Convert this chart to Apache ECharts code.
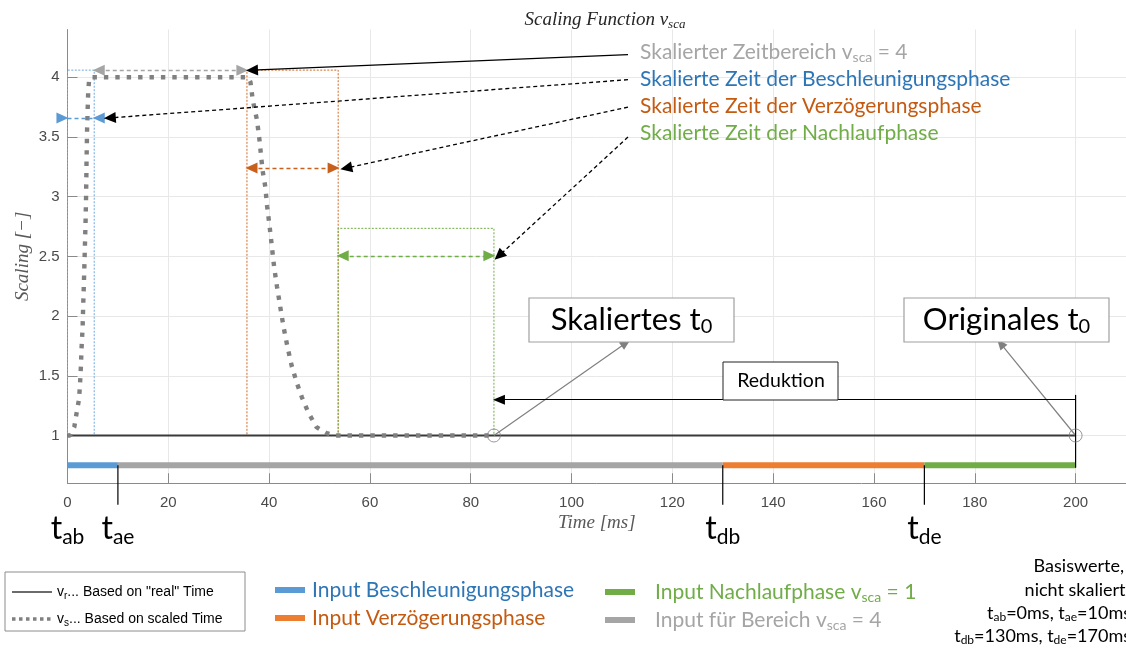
<!DOCTYPE html>
<html><head><meta charset="utf-8">
<script src="https://cdn.jsdelivr.net/npm/echarts@6/dist/echarts.min.js"></script>
<style>html,body{margin:0;padding:0;background:#fff}#c{width:1126px;height:650px}</style>
</head><body><div id="c"></div>
<script>
// ---------------- DATA ----------------
const timeTicks = [0, 20, 40, 60, 80, 100, 120, 140, 160, 180, 200];
const scalingTicks = [1, 1.5, 2, 2.5, 3, 3.5, 4];

// v_r : based on "real" time
const realTime = [0, 200];
const realValue = [1, 1];

// v_s : based on scaled time
const scaledTime = [0, 0.5, 1.34, 1.81, 2.27, 2.46, 2.66, 2.8, 3.0, 3.11, 3.31, 3.45, 3.59, 3.7, 3.78, 3.9, 4.1, 4.3, 4.7,
  35.8, 36.3, 36.75, 37.6, 38.1, 38.7, 39.25, 39.6, 40.1, 40.55, 41.0, 41.55, 42.2, 42.86, 43.65, 44.5, 45.5, 46.5, 47.8, 49.4, 51.4, 53.0, 84.6];
const scaledValue = [1, 1.0, 1.07, 1.19, 1.3, 1.41, 1.58, 1.74, 1.91, 2.08, 2.36, 2.58, 2.8, 3.03, 3.31, 3.59, 3.87, 3.99, 4.0,
  4.0, 3.96, 3.81, 3.64, 3.47, 3.22, 3.08, 2.92, 2.75, 2.58, 2.41, 2.25, 2.08, 1.91, 1.74, 1.58, 1.44, 1.32, 1.19, 1.07, 1.02, 1.0, 1.0];

// input phases (unscaled)
const phaseNames = ['Input Beschleunigungsphase', 'Input für Bereich vsca = 4', 'Input Verzögerungsphase', 'Input Nachlaufphase vsca = 1'];
const phaseStart = [0, 10, 130, 170];
const phaseEnd = [10, 130, 170, 200];
const phaseLevel = [0.75, 0.75, 0.75, 0.75];

// base time markers
const markerNames = ['ab', 'ae', 'db', 'de'];
const markerTime = [0, 10, 130, 170];
const markerTop = [0.75, 0.75, 0.75, 0.75];
const markerBottom = [0.42, 0.42, 0.42, 0.42];

// scaled phase windows: Beschleunigung, Verzögerung, Nachlauf
const windowStart = [0, 35.6, 53.7];
const windowEnd = [5.3, 53.7, 84.6];
const windowTop = [4.06, 4.06, 2.735];
const windowArrowLevel = [3.66, 3.24, 2.505];
const blueStubStart = -2.6;
const blueStubHead = -1.0;

// scaled range v_sca = 4
const rangeStart = 5.3;
const rangeEnd = 35.6;
const rangeLevel = 4.06;

// pointer lines from the texts (start -> target)
const pointerStartT = [111.2, 111.2, 111.2, 111.2];
const pointerStartV = [4.19, 3.98, 3.75, 3.5];
const pointerEndT = [35.6, 7.4, 54.3, 84.6];
const pointerEndV = [4.06, 3.66, 3.24, 2.505];

// t0 markers
const t0Time = [84.6, 200];
const t0Value = [1, 1];
const t0LabelT = [110.8, 185.1];
const t0LabelV = [1.775, 1.772];
const reductionLevel = 1.3;
const reductionTop = 1.34;
const reductionBottom = 0.73;

// ---------------- STYLE ----------------
const phaseColors = ['#5B9BD5', '#A5A5A5', '#ED7D31', '#70AD47'];
const windowColors = ['#6FA8DC', '#D06A25', '#70AD47'];
const arrowColors = ['#5B9BD5', '#C8601C', '#70AD47'];
const labelFont = 'Lato';
const headSize = [11, 12];

const chart = echarts.init(document.getElementById('c'), null, {renderer: 'canvas'});

const pair = (ts, vs) => ts.map((t, i) => [t, vs[i]]);
const seg = (x1, y1, x2, y2, style, s1, s2, size) => [
  {coord: [x1, y1], symbol: s1 || 'none', symbolSize: size || headSize},
  {coord: [x2, y2], symbol: s2 || 'none', symbolSize: size || headSize, lineStyle: style}
];
const dash = [4, 3];

const markLines = [];
// blue window: middle dashed + inward head at window end
markLines.push(seg(windowStart[0], windowArrowLevel[0], windowEnd[0], windowArrowLevel[0], {color: arrowColors[0], type: dash, width: 1.3}));
markLines.push(seg(windowEnd[0] + 2.2, windowArrowLevel[0], windowEnd[0] + 0.9, windowArrowLevel[0], {color: arrowColors[0], type: dash, width: 1.3}, 'none', 'triangle'));
// orange + green window double arrows
for (let i = 1; i < 3; i++) {
  markLines.push(seg(windowStart[i] + 0.9, windowArrowLevel[i], windowEnd[i] - 0.9, windowArrowLevel[i], {color: arrowColors[i], type: dash, width: 1.3}, 'triangle', 'triangle'));
}
// gray range double arrow
markLines.push(seg(rangeStart + 0.9, rangeLevel, rangeEnd - 0.9, rangeLevel, {color: '#A5A5A5', type: dash, width: 1.3}, 'triangle', 'triangle'));
// pointers from texts
for (let i = 0; i < 4; i++) {
  markLines.push(seg(pointerStartT[i], pointerStartV[i], pointerEndT[i] + 1.0, pointerEndV[i],
    {color: '#000', type: i === 0 ? 'solid' : dash, width: 1.3}, 'none', 'triangle'));
}
// t0 pointers
for (let i = 0; i < 2; i++) {
  markLines.push(seg(t0Time[i], t0Value[i], t0LabelT[i], t0LabelV[i], {color: '#808080', type: 'solid', width: 1.2}, 'none', 'triangle', [9, 11]));
}
// reduction
markLines.push(seg(t0Time[1], reductionLevel, t0Time[0] + 1.0, reductionLevel, {color: '#000', type: 'solid', width: 1}, 'none', 'triangle', [10, 12]));

const markAreas = windowStart.map((s, i) => [
  {coord: [s, 1], itemStyle: {color: 'rgba(0,0,0,0)', borderColor: windowColors[i], borderWidth: 1, borderType: [2, 1.5]}},
  {coord: [windowEnd[i], windowTop[i]]}
]);

const series = [
  {
    name: 'annotations', type: 'line', data: [], clip: false, silent: true,
    markLine: {silent: true, animation: false, label: {show: false}, symbol: ['none', 'none'], data: markLines},
    markArea: {silent: true, animation: false, label: {show: false}, data: markAreas}
  },
  {
    name: 'vr', type: 'line', data: pair(realTime, realValue), showSymbol: false, silent: true,
    lineStyle: {color: '#3a3a3a', width: 2}, z: 3
  },
  {
    name: 'vs', type: 'line', data: pair(scaledTime, scaledValue), showSymbol: false, silent: true,
    lineStyle: {color: '#808080', width: 4.4, type: [4.4, 7], cap: 'butt'}, z: 4
  },
  // blue stub left of the y axis with inward head
  {
    name: 'blueStub', type: 'line', clip: false, silent: true, symbol: 'none',
    data: [[blueStubStart, windowArrowLevel[0]], {value: [blueStubHead, windowArrowLevel[0]], symbol: 'triangle', symbolRotate: -90, symbolSize: headSize}, [windowStart[0], windowArrowLevel[0]]],
    lineStyle: {color: arrowColors[0], type: dash, width: 1.3}, itemStyle: {color: arrowColors[0]}, z: 4
  }
];
// marker verticals (extend below the axis)
for (let i = 1; i < 4; i++) {
  series.push({name: 'm' + i, type: 'line', clip: false, silent: true, showSymbol: false,
    data: [[markerTime[i], markerTop[i]], [markerTime[i], markerBottom[i]]], lineStyle: {color: '#000', width: 1.2}, z: 6});
}
series.push({name: 'redVert', type: 'line', clip: false, silent: true, showSymbol: false,
  data: [[t0Time[1], reductionTop], [t0Time[1], reductionBottom]], lineStyle: {color: '#000', width: 1.2}, z: 6});

phaseNames.forEach((n, i) => {
  series.push({
    name: n, type: 'line', data: [[phaseStart[i], phaseLevel[i]], [phaseEnd[i], phaseLevel[i]]],
    showSymbol: false, silent: true, clip: false, lineStyle: {color: phaseColors[i], width: 6, cap: 'butt'}, z: 5
  });
});
series.push({
  name: 't0', type: 'scatter', data: pair(t0Time, t0Value), symbol: 'circle', symbolSize: 13, silent: true,
  itemStyle: {color: 'rgba(0,0,0,0)', borderColor: '#808080', borderWidth: 1}, z: 6
});

const serifIt = {fontFamily: 'Liberation Serif', fontStyle: 'italic', fontWeight: 'normal'};

chart.setOption({
  animation: false,
  title: {
    text: '{a|Scaling Function v}{s|sca}', left: 600, textAlign: 'center', top: 4,
    textStyle: {fontWeight: 'normal', rich: {a: {...serifIt, fontSize: 19, color: '#262626'}, s: {...serifIt, fontSize: 13, color: '#262626', padding: [9, 0, 0, 0]}}}
  },
  grid: {left: 67.5, right: -7.25, top: 29.54, bottom: 166.74, containLabel: false},
  xAxis: {
    type: 'value', min: 0, max: 210,
    name: 'Time [ms]', nameLocation: 'middle', nameGap: 30, nameMoveOverlap: false,
    nameTextStyle: {...serifIt, fontSize: 19, color: '#595959'},
    axisLine: {onZero: false, lineStyle: {color: '#8a8a8a', width: 1}},
    axisTick: {inside: true, length: 10, lineStyle: {color: '#8a8a8a'}, customValues: timeTicks},
    axisLabel: {customValues: timeTicks, color: '#4a4a4a', fontSize: 15, fontFamily: 'Liberation Sans', margin: 12},
    splitLine: {show: true, lineStyle: {color: '#e8e8e8', width: 1}}
  },
  yAxis: {
    type: 'value', min: 0.6, max: 4.4,
    name: 'Scaling [−]', nameLocation: 'middle', nameGap: 35, nameRotate: 90, nameMoveOverlap: false,
    nameTextStyle: {...serifIt, fontSize: 19, color: '#595959'},
    axisLine: {show: true, onZero: false, lineStyle: {color: '#8a8a8a', width: 1}},
    axisTick: {show: true, inside: true, length: 10, lineStyle: {color: '#8a8a8a'}, customValues: scalingTicks},
    axisLabel: {customValues: scalingTicks, color: '#4a4a4a', fontSize: 15, fontFamily: 'Liberation Sans', margin: 8},
    splitLine: {show: true, lineStyle: {color: '#e8e8e8', width: 1}}
  },
  series: series
});

// ---------------- TEXT / LEGEND GRAPHICS ----------------
const tok = (size, color, pad, fam) => ({fontFamily: fam || labelFont, fontSize: size, fill: color, padding: [pad || 0, 0, 0, 0]});
const txt = (x, y, text, rich, extra) => ({type: 'text', x: x, y: y, silent: true, style: Object.assign({text: text, rich: rich}, extra || {})});

const graphics = [];
// pointer texts
const ptexts = [
  ['{a|Skalierter Zeitbereich v}{s|sca}{a| = 4}', '#A5A5A5'],
  ['{a|Skalierte Zeit der Beschleunigungsphase}', '#2E75B6'],
  ['{a|Skalierte Zeit der Verzögerungsphase}', '#C55A11'],
  ['{a|Skalierte Zeit der Nachlaufphase}', '#70AD47']
];
const ptY = [52, 79, 106, 133];
ptexts.forEach((p, i) => {
  graphics.push(txt(640, ptY[i], p[0], {a: tok(21, p[1]), s: tok(14, p[1], 10)}, {verticalAlign: 'middle'}));
});

// t labels under axis
markerNames.forEach((n, i) => {
  const px = chart.convertToPixel({gridIndex: 0}, [markerTime[i], 0.6]);
  graphics.push(txt(px[0], 529, '{t|t}{s|' + n + '}', {t: tok(32, '#000'), s: tok(21, '#000', 16)}, {align: 'center', verticalAlign: 'middle'}));
});

// t0 boxes
const boxes = [[529, 298, 205, 44, 'Skaliertes t'], [904, 298, 205, 44, 'Originales t']];
boxes.forEach(b => {
  graphics.push({type: 'rect', shape: {x: b[0], y: b[1], width: b[2], height: b[3]}, style: {fill: '#fff', stroke: '#a0a0a0', lineWidth: 1.2}, z: 10});
  graphics.push(Object.assign(txt(b[0] + b[2] / 2, b[1] + b[3] / 2, '{a|' + b[4] + '}{s|0}', {a: tok(31, '#000'), s: tok(20, '#000', 14)}, {align: 'center', verticalAlign: 'middle'}), {z: 11}));
});
// Reduktion box
graphics.push({type: 'rect', shape: {x: 723, y: 362, width: 115, height: 38}, style: {fill: '#fff', stroke: '#222', lineWidth: 1}, z: 10});
graphics.push(Object.assign(txt(781, 381, 'Reduktion', null, {fontFamily: labelFont, fontSize: 19.5, fill: '#000', align: 'center', verticalAlign: 'middle'}), {z: 11}));

// left legend box
const narrow = 'Liberation Sans';
graphics.push({type: 'rect', shape: {x: 5, y: 572, width: 240, height: 59}, style: {fill: '#fff', stroke: '#8c8c8c', lineWidth: 1}});
graphics.push({type: 'line', shape: {x1: 12, y1: 592, x2: 52, y2: 592}, style: {stroke: '#3a3a3a', lineWidth: 1.5}});
graphics.push({type: 'line', shape: {x1: 12, y1: 619, x2: 52, y2: 619}, style: {stroke: '#808080', lineWidth: 3.5, lineDash: [3.5, 3.5]}});
graphics.push(txt(57, 592, '{a|v}{s|r}{a|... Based on "real" Time}', {a: tok(14, '#000', 0, narrow), s: tok(10, '#000', 9, narrow)}, {verticalAlign: 'middle'}));
graphics.push(txt(57, 619, '{a|v}{s|s}{a|... Based on scaled Time}', {a: tok(14, '#000', 0, narrow), s: tok(10, '#000', 9, narrow)}, {verticalAlign: 'middle'}));

// phase legend
const legX = [275, 275, 605, 605];
const legY = [590, 618, 592, 620];
const legTextX = [312, 312, 655, 655];
const legOrder = [0, 2, 3, 1];
const legTextColor = ['#2E75B6', '#A5A5A5', '#C55A11', '#70AD47'];
legOrder.forEach((pi, k) => {
  graphics.push({type: 'line', shape: {x1: legX[k], y1: legY[k], x2: legX[k] + 30, y2: legY[k]}, style: {stroke: phaseColors[pi], lineWidth: 6}});
  const name = phaseNames[pi];
  const t = name.indexOf('vsca') >= 0
    ? '{a|' + name.replace(/vsca.*/, 'v') + '}{s|sca}{a|' + name.replace(/.*vsca/, '') + '}'
    : '{a|' + name + '}';
  graphics.push(txt(legTextX[k], legY[k], t, {a: tok(21, legTextColor[pi]), s: tok(14, legTextColor[pi], 10)}, {verticalAlign: 'middle'}));
});

// base values text (right)
const rb = {a: tok(18, '#000'), s: tok(12, '#000', 9)};
graphics.push(txt(1124, 566, '{a|Basiswerte,}', rb, {align: 'right', verticalAlign: 'middle'}));
graphics.push(txt(1130, 590, '{a|nicht skaliert:}', rb, {align: 'right', verticalAlign: 'middle'}));
graphics.push(txt(1131, 613, '{a|t}{s|ab}{a|=0ms, t}{s|ae}{a|=10ms}', rb, {align: 'right', verticalAlign: 'middle'}));
graphics.push(txt(1131, 636, '{a|t}{s|db}{a|=130ms, t}{s|de}{a|=170ms}', rb, {align: 'right', verticalAlign: 'middle'}));

chart.setOption({graphic: {elements: graphics}});
</script></body></html>
